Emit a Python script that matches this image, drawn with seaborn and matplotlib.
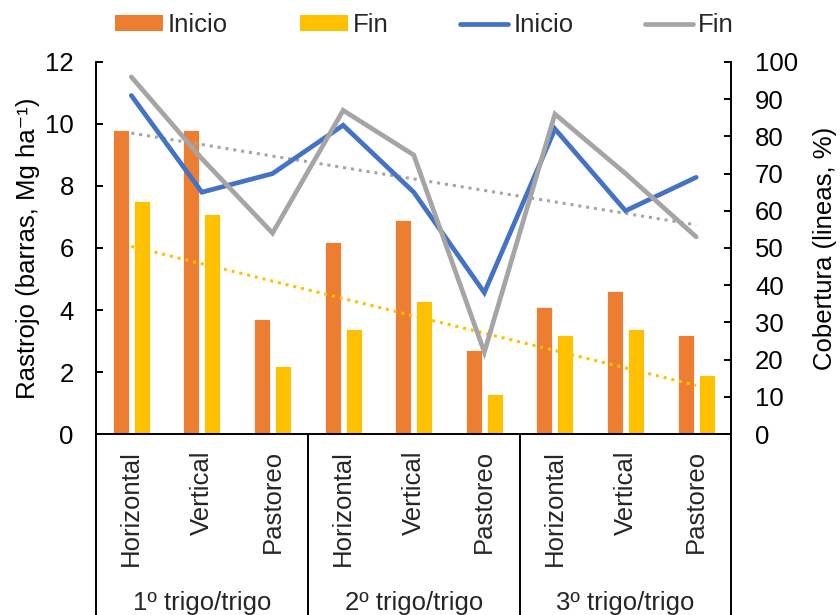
import numpy as np
import pandas as pd
import matplotlib
matplotlib.use("Agg")
import matplotlib.pyplot as plt
import seaborn as sns
from matplotlib.patches import Patch
from matplotlib.lines import Line2D
from matplotlib.transforms import blended_transform_factory

# Treatments and rotation groups
tratamientos = ["Horizontal", "Vertical", "Pastoreo"] * 3
grupos = ["1º trigo/trigo", "2º trigo/trigo", "3º trigo/trigo"]

# Stubble (Mg/ha) - bars
rastrojo_inicio = [9.8, 9.8, 3.7, 6.2, 6.9, 2.7, 4.1, 4.6, 3.2]
rastrojo_fin = [7.5, 7.1, 2.2, 3.4, 4.3, 1.3, 3.2, 3.4, 1.9]

# Cover (%) - lines
cobertura_inicio = [91, 65, 70, 83, 65, 38, 82, 60, 69]
cobertura_fin = [96, 74, 54, 87, 75, 22, 86, 70, 53]

ORANGE = "#ED7D31"
YELLOW = "#FFC000"
BLUE = "#4472C4"
GRAY = "#A5A5A5"
FS = 18.5

sns.set_theme(style="white")
plt.rcParams["font.family"] = ["Liberation Sans", "DejaVu Sans"]

pos = list(range(len(tratamientos)))
bars = pd.DataFrame({
    "pos": pos * 2,
    "valor": rastrojo_inicio + rastrojo_fin,
    "momento": ["Inicio"] * len(pos) + ["Fin"] * len(pos),
})
lines = pd.DataFrame({
    "pos": pos,
    "inicio": cobertura_inicio,
    "fin": cobertura_fin,
    "rfin": rastrojo_fin,
})

fig = plt.figure(figsize=(8.4, 6.15), dpi=100)
ax = fig.add_axes([0.1143, 0.2943, 0.8708 - 0.1143, 0.8992 - 0.2943])

sns.barplot(data=bars, x="pos", y="valor", hue="momento",
            hue_order=["Inicio", "Fin"], palette=[ORANGE, YELLOW],
            saturation=1, width=0.594, gap=0.236, edgecolor="white",
            linewidth=0.6, legend=False, ax=ax)

# linear trend of final stubble
sns.regplot(data=lines, x="pos", y="rfin", scatter=False, ci=None, ax=ax,
            color=YELLOW, line_kws=dict(lw=2.2, linestyle=(0, (1, 1.6))))

ax2 = ax.twinx()
sns.regplot(data=lines, x="pos", y="fin", scatter=False, ci=None, ax=ax2,
            color=GRAY, line_kws=dict(lw=2.2, linestyle=(0, (1, 1.6))))
sns.lineplot(data=lines, x="pos", y="inicio", color=BLUE, lw=3.4, ax=ax2,
             solid_joinstyle="miter")
sns.lineplot(data=lines, x="pos", y="fin", color=GRAY, lw=3.4, ax=ax2,
             solid_joinstyle="miter")

ax.set_xlim(-0.5, len(pos) - 0.5)
ax.set_ylim(0, 12)
ax.set_yticks(np.arange(0, 13, 2))
ax2.set_ylim(0, 100)
ax2.set_yticks(np.arange(0, 101, 10))

for a in (ax, ax2):
    a.set_xlabel("")
    a.set_xticks([])
    a.spines["top"].set_visible(False)
    for s in a.spines.values():
        s.set_color("black")
        s.set_linewidth(1.4)
ax.spines["right"].set_visible(False)
ax2.spines["left"].set_visible(False)
ax2.spines["bottom"].set_visible(False)

ax.tick_params(axis="y", direction="in", length=5, width=1.4, pad=16,
               labelsize=FS, colors="black", left=True)
ax2.tick_params(axis="y", direction="in", length=5, width=1.4, pad=17,
                labelsize=FS, colors="black", right=True)

ax.set_ylabel("Rastrojo (barras, Mg ha⁻¹)", fontsize=FS, color="black")
ax.yaxis.set_label_coords(-0.088, 0.5)
ax2.set_ylabel("Cobertura (lineas, %)", fontsize=FS, color="black")
ax2.yaxis.set_label_coords(1.129, 0.5)

# two-level category axis
trans = blended_transform_factory(ax.transData, ax.transAxes)
for i, t in enumerate(tratamientos):
    ax.text(i, -0.043, t, rotation=90, ha="center", va="top",
            fontsize=FS, transform=trans, clip_on=False)
for g, nombre in enumerate(grupos):
    ax.text(3 * g + 1, -0.454, nombre, ha="center", va="center",
            fontsize=FS, transform=trans, clip_on=False)
for xf in (0, 1 / 3, 2 / 3, 1):
    ax.plot([xf, xf], [0, -0.6], transform=ax.transAxes, color="black",
            lw=1.4, clip_on=False, solid_capstyle="butt")

handles = [
    Patch(facecolor=ORANGE, edgecolor="none"),
    Patch(facecolor=YELLOW, edgecolor="none"),
    Line2D([], [], color=BLUE, lw=3.4, solid_capstyle="round"),
    Line2D([], [], color=GRAY, lw=3.4, solid_capstyle="round"),
]
fig.legend(handles, ["Inicio", "Fin", "Inicio", "Fin"], ncol=4,
           loc="center", bbox_to_anchor=(424.5 / 840, 1 - 25 / 615),
           frameon=False, fontsize=FS, handlelength=1.85, handleheight=0.55,
           handletextpad=0.2, columnspacing=2.8, borderpad=0.2)

fig.savefig("out.png", dpi=100)
